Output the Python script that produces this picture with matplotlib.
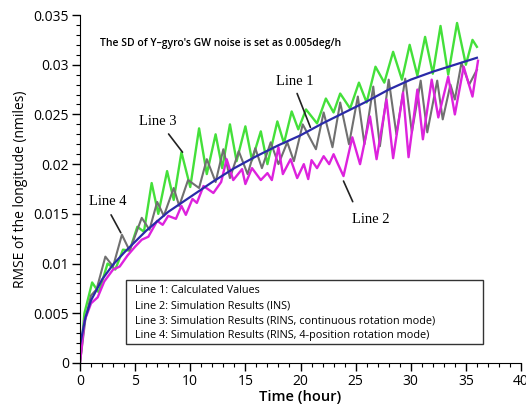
import matplotlib
matplotlib.use("Agg")
import matplotlib.pyplot as plt
from matplotlib.patches import Rectangle
from matplotlib.ticker import MultipleLocator, FuncFormatter

# Line 1: calculated values (smooth)
t1 = [0, 0.5, 1, 2, 3, 4, 5, 6, 8, 10, 12, 14, 16, 18, 20, 22, 24, 26, 28, 30, 32, 34, 36]
v1 = [0.0018, 0.0046, 0.0063, 0.0084, 0.0099, 0.0111, 0.0122, 0.0133, 0.0152, 0.0167,
      0.0182, 0.0196, 0.0208, 0.0219, 0.0229, 0.0241, 0.0252, 0.0263, 0.0275, 0.0285,
      0.0293, 0.0300, 0.0307]

# Line 2: simulation results (INS)
t2 = [0, 0.4, 1.0, 1.6, 2.2, 3.0, 3.6, 4.3, 5.0, 5.6, 6.2, 7.0, 7.5, 8.0, 8.7, 9.2, 9.6,
      10.2, 10.6, 11.2, 12.1, 12.8, 13.3, 13.9, 14.7, 15.0, 15.6, 16.4, 17.0, 17.4, 18.0,
      18.4, 19.1, 19.7, 20.3, 20.7, 21.0, 21.5, 22.1, 22.6, 23.0, 23.4, 23.9, 24.7, 25.4,
      26.3, 26.9, 27.8, 28.4, 29.3, 29.8, 30.6, 31.1, 31.9, 32.5, 33.4, 34.0, 34.8, 35.6, 36.1]
v2 = [0.0, 0.0042, 0.0060, 0.0066, 0.0082, 0.0094, 0.0097, 0.0108, 0.0117, 0.0124, 0.0127,
      0.0143, 0.0139, 0.0148, 0.0145, 0.0158, 0.0149, 0.0165, 0.0161, 0.0178, 0.0171,
      0.0182, 0.0205, 0.0184, 0.0195, 0.0180, 0.0196, 0.0184, 0.0191, 0.0184, 0.0217,
      0.0190, 0.0205, 0.0186, 0.0200, 0.0185, 0.0204, 0.0196, 0.0208, 0.0200, 0.0210,
      0.0200, 0.0188, 0.0227, 0.0200, 0.0248, 0.0205, 0.0265, 0.0206, 0.0272, 0.0207,
      0.0275, 0.0225, 0.0285, 0.0247, 0.0288, 0.0250, 0.0298, 0.0268, 0.0304]

# Line 3: simulation results (RINS, continuous rotation)
t3 = [0, 0.4, 1.1, 1.7, 2.5, 3.2, 3.9, 4.5, 5.2, 5.8, 6.5, 7.1, 7.9, 8.5, 9.2, 10.0, 10.8,
      11.5, 12.3, 12.9, 13.6, 14.2, 15.0, 15.6, 16.4, 17.0, 17.9, 18.5, 19.2, 19.8, 20.5,
      21.5, 22.3, 23.0, 23.6, 24.5, 25.3, 26.0, 26.8, 27.6, 28.4, 29.2, 29.9, 30.6, 31.3,
      32.0, 32.7, 33.4, 34.2, 35.0, 35.6, 36.0]
v3 = [0.0, 0.0050, 0.0081, 0.0071, 0.0100, 0.0094, 0.0114, 0.0113, 0.0137, 0.0132, 0.0181,
      0.0150, 0.0193, 0.0164, 0.0212, 0.0177, 0.0236, 0.0190, 0.0230, 0.0196, 0.0240,
      0.0203, 0.0238, 0.0204, 0.0233, 0.0200, 0.0243, 0.0221, 0.0253, 0.0235, 0.0255,
      0.0241, 0.0266, 0.0252, 0.0271, 0.0256, 0.0282, 0.0262, 0.0298, 0.0282, 0.0313,
      0.0285, 0.0320, 0.0289, 0.0328, 0.0291, 0.0339, 0.0290, 0.0342, 0.0300, 0.0325, 0.0318]

# Line 4: simulation results (RINS, 4-position rotation)
t4 = [0, 0.5, 1.0, 1.5, 2.3, 3.0, 3.8, 4.5, 5.6, 6.3, 7.0, 7.6, 8.5, 9.0, 9.8, 10.8, 11.5,
      12.3, 13.0, 13.6, 14.4, 15.2, 15.9, 16.5, 17.3, 18.0, 18.8, 19.4, 20.2, 21.4, 22.1,
      22.9, 23.6, 24.4, 25.2, 25.8, 26.6, 27.2, 28.0, 28.7, 29.5, 30.1, 30.9, 31.5, 32.4,
      32.9, 33.6, 34.0, 34.6, 35.3, 36.0]
v4 = [0.0, 0.0045, 0.0068, 0.0074, 0.0107, 0.0097, 0.0129, 0.0113, 0.0146, 0.0134, 0.0162,
      0.0148, 0.0176, 0.0158, 0.0184, 0.0176, 0.0205, 0.0182, 0.0215, 0.0186, 0.0213,
      0.0190, 0.0216, 0.0196, 0.0222, 0.0200, 0.0222, 0.0203, 0.0240, 0.0215, 0.0252,
      0.0217, 0.0262, 0.0220, 0.0268, 0.0220, 0.0278, 0.0218, 0.0285, 0.0230, 0.0286,
      0.0232, 0.0284, 0.0232, 0.0284, 0.0245, 0.0280, 0.0265, 0.0302, 0.0280, 0.0295]

legend_lines = [
    "Line 1: Calculated Values",
    "Line 2: Simulation Results (INS)",
    "Line 3: Simulation Results (RINS, continuous rotation mode)",
    "Line 4: Simulation Results (RINS, 4-position rotation mode)",
]

plt.rcParams['font.family'] = ['Open Sans', 'DejaVu Sans']

fig = plt.figure(figsize=(5.26, 4.08), dpi=100)
ax = fig.add_axes([0.1521, 0.1103, 0.8384, 0.8529])

# Curves (drawn so that the blue calculated line sits on top)
ax.plot(t3, v3, color='#44e03a', lw=1.7, solid_joinstyle='round')
ax.plot(t4, v4, color='#707070', lw=1.5, solid_joinstyle='round')
ax.plot(t2, v2, color='#dd22dd', lw=1.7, solid_joinstyle='round')
ax.plot(t1, v1, color='#2a2aa8', lw=1.6)

ax.set_xlim(0, 40)
ax.set_ylim(0, 0.035)
ax.xaxis.set_major_locator(MultipleLocator(5))
ax.xaxis.set_minor_locator(MultipleLocator(1))
ax.yaxis.set_major_locator(MultipleLocator(0.005))
ax.yaxis.set_minor_locator(MultipleLocator(0.001))
ax.yaxis.set_major_formatter(FuncFormatter(lambda v, pos: '%g' % round(v, 4)))
ax.spines['top'].set_visible(False)
ax.spines['right'].set_visible(False)
ax.tick_params(which='major', direction='out', length=6, width=1, labelsize=10, pad=2)
ax.tick_params(which='minor', direction='out', length=3, width=0.8)

ax.set_xlabel('Time (hour)', fontsize=10.5, fontweight='semibold', labelpad=1)
ax.set_ylabel('RMSE of the longitude (nmiles)', fontsize=10, labelpad=4)

ax.text(1.8, 0.0321, "The SD of Y\u2013gyro's GW noise is set as 0.005deg/h",
        fontsize=7.5, fontweight='semibold', ha='left', va='center')

# Line labels with pointers
serif = dict(family='Liberation Serif', fontsize=10.5, color='black')
ax.annotate('Line 1', xy=(20.9, 0.0237), xytext=(19.5, 0.0283), ha='center', va='center',
            arrowprops=dict(arrowstyle='-', color='#222222', lw=1.2, relpos=(0.5, 0), shrinkA=2, shrinkB=0),
            **serif)
ax.annotate('Line 2', xy=(23.9, 0.0183), xytext=(26.4, 0.0144), ha='center', va='center',
            arrowprops=dict(arrowstyle='-', color='#222222', lw=1.2, relpos=(0.15, 1), shrinkA=7, shrinkB=0),
            **serif)
ax.annotate('Line 3', xy=(9.3, 0.0212), xytext=(7.1, 0.0243), ha='center', va='center',
            arrowprops=dict(arrowstyle='-', color='#222222', lw=1.2, relpos=(0.65, 0), shrinkA=3, shrinkB=0),
            **serif)
ax.annotate('Line 4', xy=(3.7, 0.0131), xytext=(2.5, 0.0162), ha='center', va='center',
            arrowprops=dict(arrowstyle='-', color='#222222', lw=1.2, relpos=(0.5, 0), shrinkA=3, shrinkB=0),
            **serif)

# Legend box as a framed text block
ax.add_patch(Rectangle((0.104, 0.0546), 0.81, 0.184, transform=ax.transAxes,
                       facecolor='white', edgecolor='#333333', lw=1, zorder=3))
for i, line in enumerate(legend_lines):
    ax.text(0.125, 0.207 - i * 0.043, line, transform=ax.transAxes, fontsize=7.8,
            ha='left', va='center', zorder=4)

fig.savefig('out.png', dpi=100)
